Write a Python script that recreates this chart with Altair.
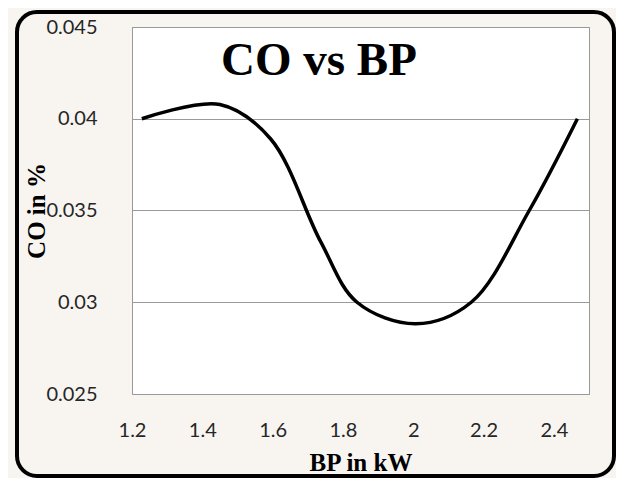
import altair as alt
import pandas as pd

# Values
bp = [1.228, 1.45, 1.594, 1.737, 1.84, 2.007, 2.165, 2.330, 2.467]
co = [0.04000, 0.04078, 0.03891, 0.03329, 0.03000, 0.02883, 0.03000, 0.03500, 0.04000]

x_ticks = [1.2, 1.4, 1.6, 1.8, 2.0, 2.2, 2.4]
y_ticks = [0.025, 0.03, 0.035, 0.04, 0.045]
chart_title = "CO vs BP"
x_title = "BP in kW"
y_title = "CO in %"

df = pd.DataFrame({"bp": bp, "co": co})

W, H = 457, 367

line = alt.Chart(df).mark_line(
    color="black", strokeWidth=3.5, interpolate="catmull-rom"
).encode(
    x=alt.X("bp:Q", scale=alt.Scale(domain=[1.2, 2.5], nice=False, zero=False),
            axis=alt.Axis(values=x_ticks, format="~g", grid=False, domain=False, ticks=False,
                          labelFlush=False, labelPadding=26, labelFont="Lato", labelFontSize=20,
                          labelColor="#262626", title=x_title, titleFont="Liberation Serif",
                          titleFontWeight="bold", titleFontSize=25, titleColor="black",
                          titleX=W / 2, titleY=76, titleBaseline="alphabetic", titleAlign="center")),
    y=alt.Y("co:Q", scale=alt.Scale(domain=[0.025, 0.045], nice=False, zero=False),
            axis=alt.Axis(values=y_ticks, format="~g", grid=True, gridColor="#999999", gridWidth=1,
                          domain=False, ticks=False, labelPadding=35, labelFont="Lato",
                          labelFontSize=20, labelColor="#262626", title=y_title,
                          titleFont="Liberation Serif", titleFontWeight="bold", titleFontSize=25,
                          titleColor="black", titleX=-88, titleY=H / 2, titleAngle=270,
                          titleBaseline="alphabetic", titleAlign="center")),
)

title_text = alt.Chart(pd.DataFrame({"t": [chart_title]})).mark_text(
    font="Liberation Serif", fontWeight="bold", fontSize=47, color="black",
    align="center", baseline="alphabetic"
).encode(text="t:N", x=alt.value(187), y=alt.value(48))

border = alt.Chart(pd.DataFrame({"k": [0]})).mark_rect(
    fillOpacity=0, stroke="black", strokeWidth=4, cornerRadius=20
).encode(x=alt.value(-115), x2=alt.value(482), y=alt.value(-15), y2=alt.value(449))

chart = alt.layer(line, title_text, border).properties(
    width=W, height=H,
    autosize=alt.AutoSizeParams(type="none"),
    padding={"left": 124, "top": 19, "right": 27, "bottom": 84},
    background="#f8f5f1",
).configure_view(stroke="#999999", strokeWidth=1, fill="white")

chart.save("out.html", embed_options={"renderer": "svg", "actions": False})
